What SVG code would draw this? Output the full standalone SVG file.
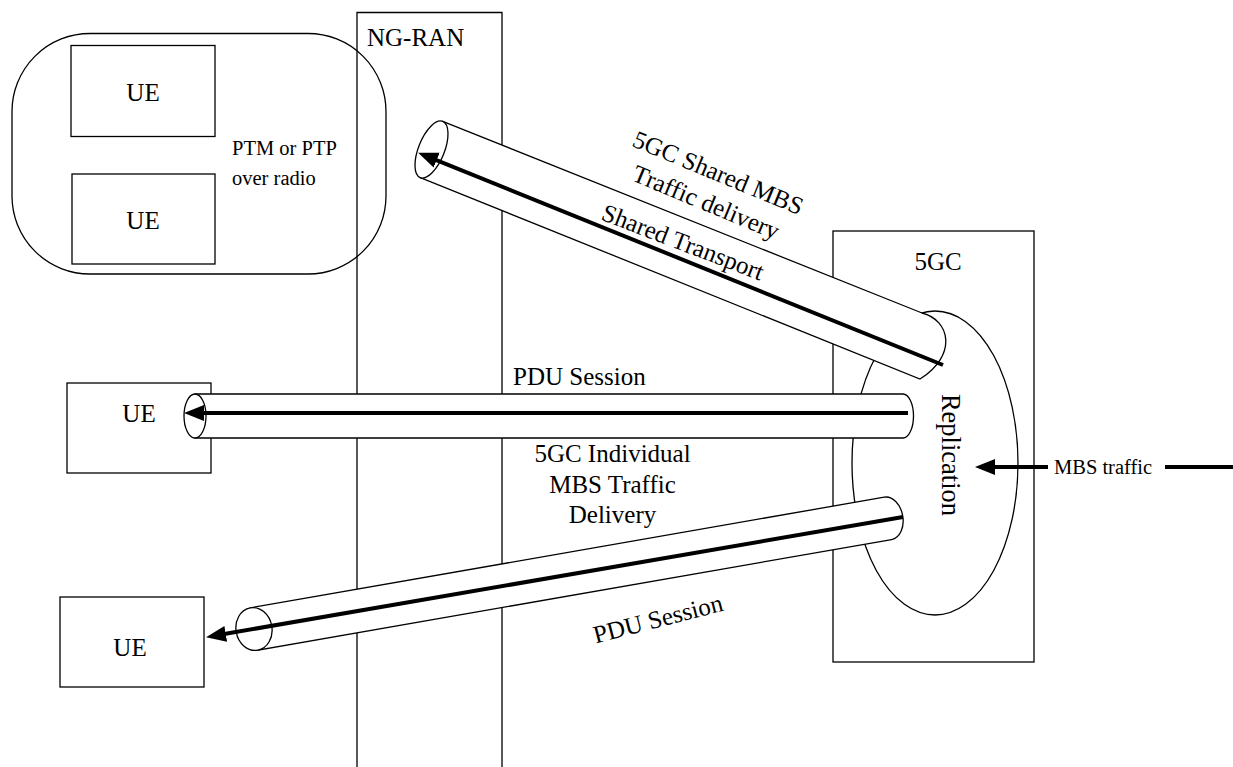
<svg xmlns="http://www.w3.org/2000/svg" width="1233" height="767" viewBox="0 0 1233 767">
<style>
.box{fill:none;stroke:#000;stroke-width:1.3}
.tube{fill:#fff;stroke:#000;stroke-width:1.3}
.arr{fill:none;stroke:#000;stroke-width:4}
.t{font-family:"Liberation Serif","Times New Roman",serif;fill:#000}
.l{font-size:25px}
.s{font-size:20.5px}
</style>
<defs>
<marker id="ah" viewBox="0 -9 20 18" markerWidth="20" markerHeight="18" refX="9" refY="0" markerUnits="userSpaceOnUse" orient="auto">
<path d="M0,-8 L20,0 L0,8 Z" fill="#000"/>
</marker>
</defs>
<rect width="1233" height="767" fill="#fff"/>
<g id="ngran">
<path class="box" d="M357,780 V12.5 H502 V780"/>
<text class="t l" x="367" y="46">NG-RAN</text>
</g>
<g id="core5gc">
<rect class="box" x="833" y="231" width="201" height="431"/>
<text class="t l" x="938" y="270" text-anchor="middle">5GC</text>
</g>
<g id="ue-group">
<rect class="box" x="12" y="33.5" width="374" height="240.5" rx="78" ry="78"/>
<text class="t s" x="232" y="155">PTM or PTP</text>
<text class="t s" x="232" y="185">over radio</text>
</g>
<g id="ue1">
<rect class="box" x="71" y="45.5" width="144" height="91"/>
<text class="t l" x="143" y="101" text-anchor="middle">UE</text>
</g>
<g id="ue2">
<rect class="box" x="72" y="174" width="143" height="90"/>
<text class="t l" x="143" y="229" text-anchor="middle">UE</text>
</g>
<g id="ue3">
<rect class="box" x="67" y="383" width="144" height="90"/>
<text class="t l" x="139" y="422" text-anchor="middle">UE</text>
</g>
<g id="ue4">
<rect class="box" x="60" y="597" width="144" height="90"/>
<text class="t l" x="130" y="656" text-anchor="middle">UE</text>
</g>
<g id="replication">
<ellipse class="box" cx="935" cy="463" rx="83" ry="152"/>
</g>
<g id="tube-shared">
<path class="tube" d="M442.7,121.4 L922,313 C950,320 958,355 920,379 L420.3,177.6 Z"/>
<ellipse class="tube" cx="431.5" cy="149.5" rx="13" ry="30.3" transform="rotate(21.8 431.5 149.5)"/>
</g>
<g id="tube-pdu1">
<path class="tube" d="M195,394 L903,394 A10.5,22 0 0 1 903,438 L195,438 Z"/>
<ellipse class="tube" cx="195" cy="416" rx="11" ry="22"/>
</g>
<g id="tube-pdu2" transform="translate(254 629) rotate(-9.9)">
<path class="tube" d="M0,-21.5 L643.5,-21.5 A15,21.5 0 0 1 643.5,21.5 L0,21.5 Z"/>
<ellipse class="tube" cx="0" cy="0" rx="18" ry="21.5"/>
</g>
<g id="connectors">
<line class="arr" x1="943" y1="365" x2="428.3" y2="156.8" marker-end="url(#ah)"/>
<line class="arr" x1="908" y1="413" x2="195" y2="413" marker-end="url(#ah)"/>
<line class="arr" x1="903" y1="517" x2="216.9" y2="635.3" marker-end="url(#ah)"/>
<line class="arr" x1="1048" y1="467" x2="986" y2="467" marker-end="url(#ah)"/>
<line class="arr" x1="1165" y1="467" x2="1233" y2="467"/>
</g>
<g id="labels">
<text class="t l" x="513" y="385">PDU Session</text>
<text class="t l" text-anchor="middle" x="612.5" y="462">5GC Individual</text>
<text class="t l" text-anchor="middle" x="612.5" y="492.5">MBS Traffic</text>
<text class="t l" text-anchor="middle" x="612.5" y="523">Delivery</text>
<text class="t l" text-anchor="middle" transform="translate(660 627) rotate(-14.4)">PDU Session</text>
<text class="t l" text-anchor="middle" transform="translate(715 180.5) rotate(22.5)">5GC Shared MBS</text>
<text class="t l" text-anchor="middle" transform="translate(703 210) rotate(22.5)">Traffic delivery</text>
<text class="t l" text-anchor="middle" transform="translate(680 250) rotate(21)">Shared Transport</text>
<text class="t" font-size="26.5" text-anchor="middle" transform="translate(942 455) rotate(90)">Replication</text>
<text class="t s" x="1054" y="474">MBS traffic</text>
</g>
</svg>
